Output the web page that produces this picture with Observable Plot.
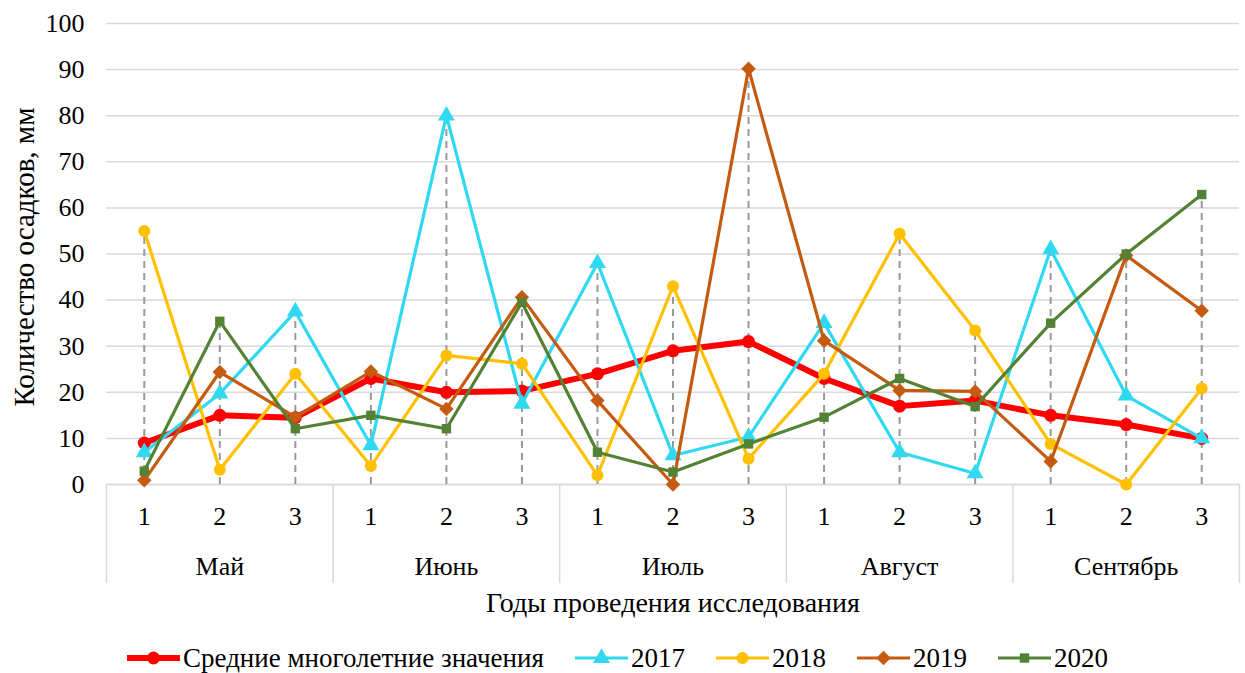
<!DOCTYPE html>
<html>
<head>
<meta charset="utf-8">
<script src="https://cdn.jsdelivr.net/npm/d3@7"></script>
<script src="https://cdn.jsdelivr.net/npm/@observablehq/plot@0.6"></script>
<style>
  html, body { margin: 0; padding: 0; background: #fff; }
  #chart { width: 1245px; }
  .legend { display: flex; align-items: center; height: 66px; padding-left: 127px; gap: 31px;
    font-family: "Liberation Serif", "Times New Roman", Tinos, "DejaVu Serif", serif; font-size: 27px; color: #000; }
  .legend .item { display: flex; align-items: center; }
  .legend svg { display: block; margin-right: 3px; }
</style>
</head>
<body>
<div id="chart"></div>
<script>
// ---- data ----
const months = ["Май", "Июнь", "Июль", "Август", "Сентябрь"];
const decades = ["1", "2", "3"];
const avgValues = [9, 15, 14.5, 23, 20, 20.3, 24, 29, 31, 23, 17, 18.2, 15, 13, 10];
const v2017 = [7, 19.7, 37.5, 8.5, 80, 17.5, 48, 6.3, 10.3, 35, 7, 2.4, 51, 19.3, 10];
const v2018 = [55, 3.2, 24, 4, 28, 26.2, 2, 43, 5.6, 24, 54.4, 33.4, 8.8, 0, 20.8];
const v2019 = [0.9, 24.4, 14.6, 24.5, 16.4, 40.6, 18.2, 0, 90.2, 31.2, 20.4, 20.2, 5, 49.7, 37.7];
const v2020 = [2.9, 35.4, 12.1, 15, 12.1, 39.5, 7, 2.7, 8.8, 14.6, 23, 16.9, 35, 50, 62.9];
const seriesNames = ["Средние многолетние значения", "2017", "2018", "2019", "2020"];
const yTicks = [0, 10, 20, 30, 40, 50, 60, 70, 80, 90, 100];
const yLabel = "Количество осадков, мм";
const xLabel = "Годы проведения исследования";

// ---- styles ----
const FONT = "'Liberation Serif', 'Times New Roman', Tinos, 'DejaVu Serif', serif";
const styles = [
  {color: "#ff0000", width: 6, symbol: "circle", r: 6.5},
  {color: "#30d8f0", width: 3.2, symbol: "triangle", r: 6.3},
  {color: "#ffc000", width: 3.2, symbol: "circle", r: 6},
  {color: "#c55a11", width: 3.2, symbol: "diamond2", r: 6.5},
  {color: "#548235", width: 3.2, symbol: "square", r: 5.3}
];

const allValues = [avgValues, v2017, v2018, v2019, v2020];
const nCat = months.length * decades.length;
const catIndex = d3.range(nCat);
const centers = catIndex.map(i => i + 0.5);
const monthCenters = months.map((m, k) => k * decades.length + decades.length / 2);
const boundaries = d3.range(0, nCat + 1, decades.length);
const drops = catIndex.map(i => ({x: i + 0.5, top: d3.max(allValues, vs => vs[i])}));

const yBottom = -21.5; // extent of category separators below the axis

const seriesMarks = [];
allValues.forEach((vals, s) => {
  const st = styles[s];
  const data = vals.map((v, i) => ({x: i + 0.5, v}));
  seriesMarks.push(Plot.line(data, {x: "x", y: "v", stroke: st.color, strokeWidth: st.width, strokeLinejoin: "round"}));
  seriesMarks.push(Plot.dot(data, {x: "x", y: "v", symbol: () => st.symbol, fill: st.color, stroke: "none", r: st.r}));
});

const chart = Plot.plot({
  width: 1245,
  height: 625,
  marginLeft: 106,
  marginRight: 6,
  marginTop: 23,
  marginBottom: 141,
  style: {fontFamily: FONT, fontSize: "26px", color: "#000", background: "#fff"},
  x: {domain: [0, nCat]},
  y: {domain: [0, 100]},
  symbol: {type: "identity"},
  marks: [
    Plot.gridY(yTicks, {stroke: "#d9d9d9", strokeOpacity: 1, strokeWidth: 1.5}),
    Plot.axisY(yTicks, {tickSize: 0, tickPadding: 22, fontSize: 26, fontFamily: FONT, label: null}),
    Plot.axisX(centers, {tickSize: 0, tickPadding: 22, fontSize: 26, fontFamily: FONT, tickFormat: d => decades[Math.floor(d) % decades.length], label: null}),
    Plot.axisX(monthCenters, {tickSize: 0, tickPadding: 72, fontSize: 26, fontFamily: FONT, tickFormat: d => months[Math.floor(d / decades.length)], label: null}),
    Plot.text([yLabel], {text: d => d, frameAnchor: "left", textAnchor: "middle", lineAnchor: "middle", dx: -82, dy: 3, rotate: -90, fontSize: 29, fontFamily: FONT, fill: "#000"}),
    Plot.text([xLabel], {text: d => d, frameAnchor: "bottom", textAnchor: "middle", lineAnchor: "middle", dy: 119, fontSize: 28, fontFamily: FONT, fill: "#000"}),
    Plot.ruleX(boundaries, {y1: 0, y2: yBottom, stroke: "#d9d9d9", strokeWidth: 1.5}),
    Plot.ruleY([0], {stroke: "#d9d9d9", strokeWidth: 1.5}),
    Plot.ruleX(drops, {x: "x", y1: 0, y2: "top", stroke: "#999", strokeWidth: 2, strokeDasharray: "7,5"}),
    ...seriesMarks
  ]
});
document.getElementById("chart").appendChild(chart);

// ---- legend ----
const legend = document.createElement("div");
legend.className = "legend";
const symPath = (sym, r) => {
  const map = {circle: d3.symbolCircle, triangle: d3.symbolTriangle, diamond2: d3.symbolDiamond2, square: d3.symbolSquare};
  return d3.symbol(map[sym], Math.PI * r * r)();
};
seriesNames.forEach((name, s) => {
  const st = styles[s];
  const item = document.createElement("div");
  item.className = "item";
  item.innerHTML = `<svg width="53" height="20"><line x1="0" x2="53" y1="10" y2="10" stroke="${st.color}" stroke-width="${st.width}"/>` +
    `<path transform="translate(26.5,10)" d="${symPath(st.symbol, st.r)}" fill="${st.color}"/></svg><span>${name}</span>`;
  legend.appendChild(item);
});
document.body.appendChild(legend);
</script>
</body>
</html>
